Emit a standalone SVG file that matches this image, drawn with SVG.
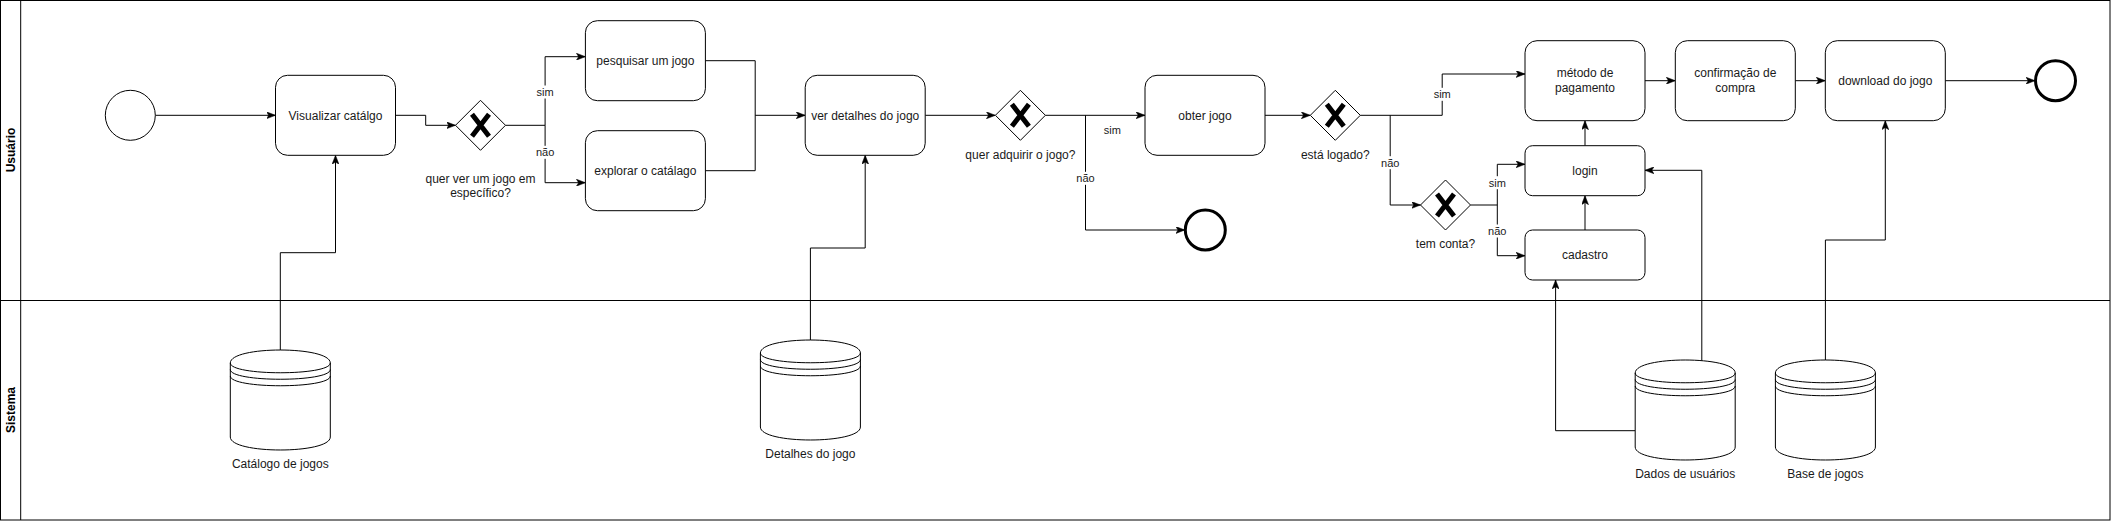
<svg xmlns="http://www.w3.org/2000/svg" width="2111" height="521" viewBox="0 0 2111 521">
<style>
  .lane { fill: none; stroke: #000; stroke-width: 1; }
  .lanelbl { font-family: "Liberation Sans", Arial, Helvetica, sans-serif; font-size: 12px; font-weight: bold; fill: #000; text-anchor: middle; }
  .task { fill: #fff; stroke: #000; stroke-width: 1; }
  .txt { font-family: "Liberation Sans", Arial, Helvetica, sans-serif; font-size: 12px; fill: #1a1a1a; text-anchor: middle; }
  .elbl { font-family: "Liberation Sans", Arial, Helvetica, sans-serif; font-size: 11px; fill: #1a1a1a; text-anchor: middle; }
  .lblbg { fill: #fff; stroke: none; }
  .gw { fill: #fff; stroke: #000; stroke-width: 1; }
  .gwx { fill: none; stroke: #000; stroke-width: 5; }
  .start { fill: #fff; stroke: #000; stroke-width: 1; }
  .end { fill: #fff; stroke: #000; stroke-width: 3; }
  .db { fill: #fff; stroke: #000; stroke-width: 1; }
  .dbl { fill: none; stroke: #000; stroke-width: 1; }
  .edge { fill: none; stroke: #000; stroke-width: 1; marker-end: url(#arr); }
  .seg { fill: none; stroke: #000; stroke-width: 1; }
</style>
<defs>
  <marker id="arr" markerUnits="userSpaceOnUse" viewBox="0 0 9 7" refX="9" refY="3.5" markerWidth="9" markerHeight="7" orient="auto">
    <path d="M0,0 L9,3.5 L0,7 L2.2,3.5 Z" fill="#000" stroke="#000" stroke-width="0.5"/>
  </marker>
  <symbol id="datastore" viewBox="0 0 100 100" overflow="visible">
    <path class="db" d="M0,13 C0,-4.33 100,-4.33 100,13 L100,87 C100,104.33 0,104.33 0,87 Z"/>
    <path class="dbl" d="M0,13 C0,26 100,26 100,13 M0,19.5 C0,32.5 100,32.5 100,19.5 M0,26 C0,39 100,39 100,26"/>
  </symbol>
  <g id="xmark"><path class="gwx" d="M-8.5,-11 L8.5,11 M8.5,-11 L-8.5,11"/></g>
</defs>

<rect width="2111" height="521" fill="#fff"/>

<!-- Pool and lanes -->
<g id="pool">
  <rect class="lane" x="0.5" y="0.5" width="2109.5" height="519.5"/>
  <line class="lane" x1="20.7" y1="0.5" x2="20.7" y2="520"/>
  <line class="lane" x1="0.5" y1="300.5" x2="2110" y2="300.5"/>
  <text class="lanelbl" transform="translate(14.5,150) rotate(-90)">Usuário</text>
  <text class="lanelbl" transform="translate(14.5,410) rotate(-90)">Sistema</text>
</g>

<!-- Connectors -->
<g id="connectors">
  <path class="edge" d="M155.3,115.3 H275.5"/>
  <path class="edge" d="M395.5,115.3 H425.7 V125.3 H455.5"/>
  <path class="edge" d="M505.5,125.3 H545.1 V56.7 H585.4"/>
  <path class="edge" d="M545.1,125.3 V182.7 H585.4"/>
  <path class="seg" d="M705.4,60.7 H755.2 V170.7 H705.4"/>
  <path class="edge" d="M755.2,115.3 H805.2"/>
  <path class="edge" d="M925.2,115.3 H995.4"/>
  <path class="edge" d="M1045.4,115.3 H1145"/>
  <path class="edge" d="M1085.5,115.3 V230 H1184.8"/>
  <path class="edge" d="M1265,115.3 H1310.3"/>
  <path class="edge" d="M1360.3,115.3 H1442.2 V74 H1525"/>
  <path class="edge" d="M1390.2,115.3 V205 H1420.5"/>
  <path class="edge" d="M1470.5,205 H1497.3 V164.3 H1525"/>
  <path class="edge" d="M1497.3,205 V255.7 H1525"/>
  <path class="edge" d="M1585,145.7 V120.7"/>
  <path class="edge" d="M1585,230 V195.7"/>
  <path class="edge" d="M1645,80.7 H1675.3"/>
  <path class="edge" d="M1795.3,80.7 H1825.3"/>
  <path class="edge" d="M1945.3,80.7 H2035"/>
  <path class="edge" d="M280.3,350 V252.7 H335.5 V155.3"/>
  <path class="edge" d="M810.4,340 V248 H865.2 V155.3"/>
  <path class="edge" d="M1635.2,430.7 H1555.6 V280"/>
  <path class="edge" d="M1701.8,361 V170.3 H1645"/>
  <path class="edge" d="M1825.4,360 V240 H1885.3 V120.7"/>

  <!-- edge labels -->
  <rect class="lblbg" x="535.6" y="85.5" width="19" height="13"/>
  <text class="elbl" x="545.1" y="96">sim</text>
  <rect class="lblbg" x="535.1" y="145.8" width="20" height="13"/>
  <text class="elbl" x="545.1" y="156.3">não</text>
  <text class="elbl" x="1112.3" y="134">sim</text>
  <rect class="lblbg" x="1075.5" y="171.8" width="20" height="13"/>
  <text class="elbl" x="1085.5" y="182.3">não</text>
  <rect class="lblbg" x="1432.7" y="87.8" width="19" height="13"/>
  <text class="elbl" x="1442.2" y="98.3">sim</text>
  <rect class="lblbg" x="1380.2" y="156.2" width="20" height="13"/>
  <text class="elbl" x="1390.2" y="166.7">não</text>
  <rect class="lblbg" x="1487.8" y="176.2" width="19" height="13"/>
  <text class="elbl" x="1497.3" y="186.7">sim</text>
  <rect class="lblbg" x="1487.3" y="224.5" width="20" height="13"/>
  <text class="elbl" x="1497.3" y="235">não</text>
</g>

<!-- Nodes -->
<g id="start">
  <circle class="start" cx="130.3" cy="115.3" r="25"/>
</g>
<g id="visualizar">
  <rect class="task" x="275.5" y="75.3" width="120" height="80" rx="12"/>
  <text class="txt" x="335.5" y="119.5">Visualizar catálgo</text>
</g>
<g id="gw-especifico">
  <polygon class="gw" points="480.5,100.3 505.5,125.3 480.5,150.3 455.5,125.3"/>
  <use href="#xmark" x="480.5" y="125.3"/>
  <text class="txt" x="480.5" y="182.5">quer ver um jogo em</text>
  <text class="txt" x="480.5" y="197">específico?</text>
</g>
<g id="pesquisar">
  <rect class="task" x="585.4" y="20.7" width="120" height="80" rx="12"/>
  <text class="txt" x="645.4" y="64.9">pesquisar um jogo</text>
</g>
<g id="explorar">
  <rect class="task" x="585.4" y="130.7" width="120" height="80" rx="12"/>
  <text class="txt" x="645.4" y="174.9">explorar o catálago</text>
</g>
<g id="detalhes">
  <rect class="task" x="805.2" y="75.3" width="120" height="80" rx="12"/>
  <text class="txt" x="865.2" y="119.5">ver detalhes do jogo</text>
</g>
<g id="gw-adquirir">
  <polygon class="gw" points="1020.4,90.3 1045.4,115.3 1020.4,140.3 995.4,115.3"/>
  <use href="#xmark" x="1020.4" y="115.3"/>
  <text class="txt" x="1020.4" y="158.5">quer adquirir o jogo?</text>
</g>
<g id="end-nao">
  <circle class="end" cx="1205.3" cy="230" r="20"/>
</g>
<g id="obter">
  <rect class="task" x="1145" y="75.3" width="120" height="80" rx="12"/>
  <text class="txt" x="1205" y="119.5">obter jogo</text>
</g>
<g id="gw-logado">
  <polygon class="gw" points="1335.3,90.3 1360.3,115.3 1335.3,140.3 1310.3,115.3"/>
  <use href="#xmark" x="1335.3" y="115.3"/>
  <text class="txt" x="1335.3" y="158.5">está logado?</text>
</g>
<g id="gw-conta">
  <polygon class="gw" points="1445.5,180 1470.5,205 1445.5,230 1420.5,205"/>
  <use href="#xmark" x="1445.5" y="205"/>
  <text class="txt" x="1445.5" y="248.2">tem conta?</text>
</g>
<g id="metodo">
  <rect class="task" x="1525" y="40.7" width="120" height="80" rx="12"/>
  <text class="txt" x="1585" y="76.9">método de</text>
  <text class="txt" x="1585" y="91.9">pagamento</text>
</g>
<g id="login">
  <rect class="task" x="1525" y="145.7" width="120" height="50" rx="7.5"/>
  <text class="txt" x="1585" y="174.9">login</text>
</g>
<g id="cadastro">
  <rect class="task" x="1525" y="230" width="120" height="50" rx="7.5"/>
  <text class="txt" x="1585" y="259.2">cadastro</text>
</g>
<g id="confirmacao">
  <rect class="task" x="1675.3" y="40.7" width="120" height="80" rx="12"/>
  <text class="txt" x="1735.3" y="76.9">confirmação de</text>
  <text class="txt" x="1735.3" y="91.9">compra</text>
</g>
<g id="download">
  <rect class="task" x="1825.3" y="40.7" width="120" height="80" rx="12"/>
  <text class="txt" x="1885.3" y="84.9">download do jogo</text>
</g>
<g id="end-fim">
  <circle class="end" cx="2055.5" cy="80.7" r="20"/>
</g>
<g id="db-catalogo">
  <use href="#datastore" x="230.3" y="350" width="100" height="100"/>
  <text class="txt" x="280.3" y="468.2">Catálogo de jogos</text>
</g>
<g id="db-detalhes">
  <use href="#datastore" x="760.4" y="340" width="100" height="100"/>
  <text class="txt" x="810.4" y="458.2">Detalhes do jogo</text>
</g>
<g id="db-usuarios">
  <use href="#datastore" x="1635.2" y="360" width="100" height="100"/>
  <text class="txt" x="1685.2" y="477.5">Dados de usuários</text>
</g>
<g id="db-jogos">
  <use href="#datastore" x="1775.4" y="360" width="100" height="100"/>
  <text class="txt" x="1825.4" y="477.5">Base de jogos</text>
</g>
</svg>
